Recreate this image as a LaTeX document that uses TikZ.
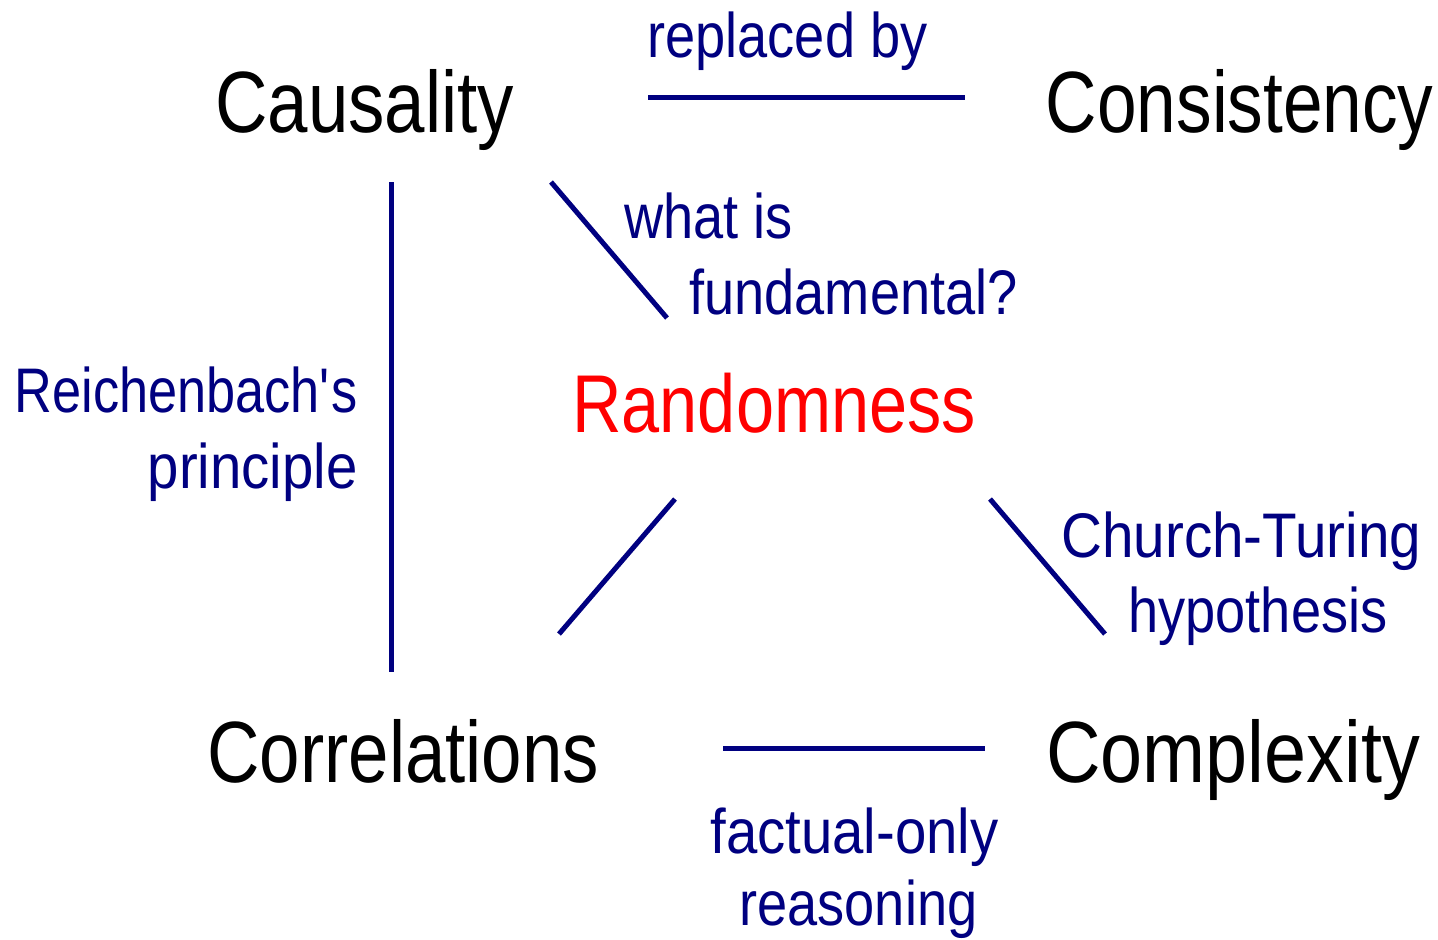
\documentclass[tikz,border=0pt]{standalone}
\usepackage{fontspec}
\usepackage{graphicx}
\setmainfont[FakeStretch=0.835]{Liberation Sans}
\newfontfamily\lblfont[FakeStretch=0.86]{Liberation Sans}
\definecolor{navy}{RGB}{0,0,128}
\definecolor{rred}{RGB}{255,0,0}
\begin{document}
\begin{tikzpicture}[x=0.5pt,y=-0.5pt,
  concept/.style={inner sep=0pt,font=\fontsize{43.5}{50}\selectfont,text=black},
  central/.style={inner sep=0pt,font=\fontsize{41}{48}\selectfont,text=rred},
  lbl/.style={inner sep=0pt,font=\lblfont\fontsize{31.5}{36}\selectfont,text=navy},
  link/.style={draw=navy,line width=2.5pt}]
\useasboundingbox (0,0) rectangle (1438,939);
% concepts
\node[concept,anchor=base west] (caus) at (215,132) {Causality};
\node[concept,anchor=base east] (cons) at (1434,132) {\scalebox{0.98}[1]{Consistency}};
\node[concept,anchor=base west] (corr) at (207,782) {Correlations};
\node[concept,anchor=base west] (comp) at (1046,782) {\scalebox{1.04}[1]{Complexity}};
\node[central,anchor=base west] (rand) at (572,432) {Randomness};
% labels
\node[lbl,anchor=base west] (l1) at (647,57) {replaced by};
\node[lbl,anchor=base west] (l2a) at (624,238) {what is};
\node[lbl,anchor=base west] (l2b) at (689,314) {fundamental?};
\node[lbl,anchor=base east] (l3a) at (358,412) {\scalebox{0.965}[1]{Reichenbach\textquotesingle s}};
\node[lbl,anchor=base east] (l3b) at (358,488) {\scalebox{1.04}[1]{principle}};
\node[lbl,anchor=base west] (l4a) at (1061,557) {\scalebox{1.045}[1]{Church-Turing}};
\node[lbl,anchor=base west] (l4b) at (1128,632) {hypothesis};
\node[lbl,anchor=base west] (l5a) at (710,853) {\scalebox{1.04}[1]{factual-only}};
\node[lbl,anchor=base west] (l5b) at (739,925) {reasoning};
% connector ends
\coordinate (a1) at (648,97);  \coordinate (a2) at (965,97);
\coordinate (b1) at (391,182); \coordinate (b2) at (391,672);
\coordinate (c1) at (551,182); \coordinate (c2) at (667,318);
\coordinate (d1) at (675,499); \coordinate (d2) at (559,634);
\coordinate (e1) at (990,499); \coordinate (e2) at (1105,634);
\coordinate (f1) at (723,748); \coordinate (f2) at (985,748);
\draw[link] (a1) -- (a2);
\draw[link] (b1) -- (b2);
\draw[link] (c1) -- (c2);
\draw[link] (d1) -- (d2);
\draw[link] (e1) -- (e2);
\draw[link] (f1) -- (f2);
\end{tikzpicture}
\end{document}
